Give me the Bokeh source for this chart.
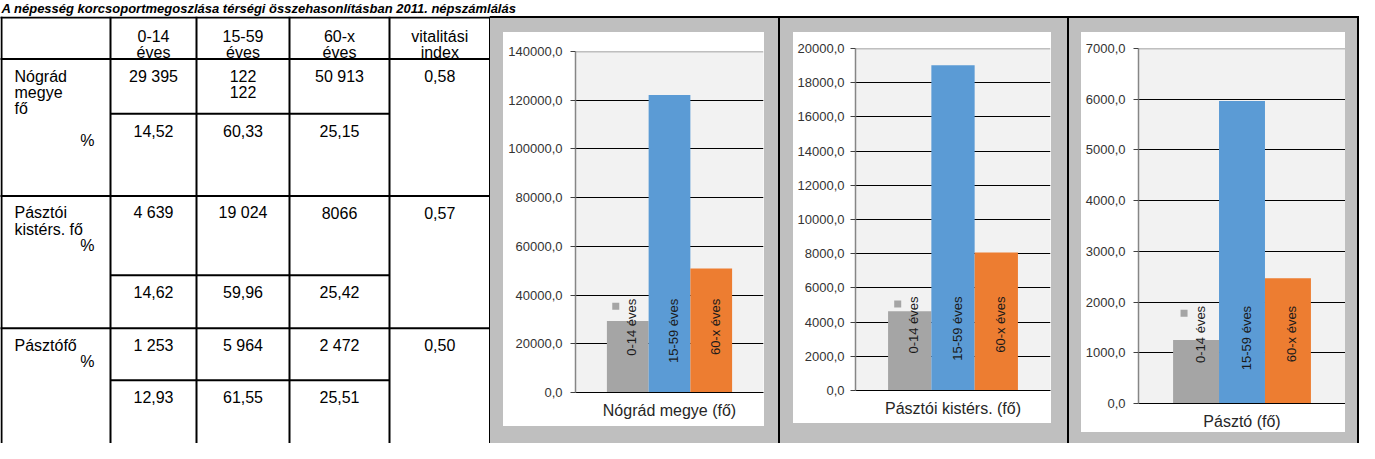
import math
from bokeh.plotting import figure
from bokeh.layouts import row, column
from bokeh.models import Div, FixedTicker, Range1d, FactorRange, ColumnDataSource, Span
from bokeh.transform import dodge
from bokeh.core.properties import value
from bokeh.embed import file_html
from bokeh.resources import INLINE

FONT = "Liberation Sans"

# ---------------- data ----------------
title_text = "A népesség korcsoportmegoszlása térségi összehasonlításban 2011. népszámlálás"

col_headers = ["0-14\néves", "15-59\néves", "60-x\néves", "vitalitási\nindex"]
row_labels = ["Nógrád\nmegye\nfő", "Pásztói\nkistérs. fő", "Pásztófő"]
count_0_14 = ["29 395", "4 639", "1 253"]
count_15_59 = ["122\n122", "19 024", "5 964"]
count_60x = ["50 913", "8066", "2 472"]
pct_0_14 = ["14,52", "14,62", "12,93"]
pct_15_59 = ["60,33", "59,96", "61,55"]
pct_60x = ["25,15", "25,42", "25,51"]
vitality = ["0,58", "0,57", "0,50"]

chart_titles = ["Nógrád megye (fő)", "Pásztói kistérs. (fő)", "Pásztó (fő)"]
age_groups = ["0-14 éves", "15-59 éves", "60-x éves"]
values_nograd = [29395, 122122, 50913]
values_pasztoi = [4639, 19024, 8066]
values_paszto = [1253, 5964, 2472]
y_max = [140000, 20000, 7000]
y_step = [20000, 2000, 1000]
bar_colors = ["#a5a5a5", "#5b9bd5", "#ed7d31"]

# ---------------- styles / layout ----------------
GREY = "#bfbfbf"
TITLE_H = 16
ROW_H = 443 - TITLE_H


def blank(p):
    p.axis.visible = False
    p.xgrid.visible = False
    p.ygrid.visible = False
    return p


# title strip
tfig = figure(width=1359, height=TITLE_H, x_range=Range1d(8, 1367), y_range=Range1d(TITLE_H, 0),
              output_backend="svg", toolbar_location=None, min_border=0,
              outline_line_color=None, border_fill_color="white", background_fill_color="white")
blank(tfig)
tfig.text(x=[9], y=[TITLE_H / 2], text=[title_text], text_font=value(FONT), text_font_size="13px",
          text_font_style="bold italic", text_color="black", text_baseline="middle")

# table
tab = figure(width=490, height=ROW_H, x_range=Range1d(8, 498), y_range=Range1d(459, 7),
             output_backend="svg", toolbar_location=None, min_border=0,
             outline_line_color=None, border_fill_color="white", background_fill_color="white")
blank(tab)

col_edges = [9, 118, 204, 297, 397, 497.5]
full_lines = [8, 52, 197, 337]
sub_lines = [110, 281, 392]
row_tops = [52, 197, 337]
pct_line_index = [4, 2, 1]
gap = 17.0

tab.segment(x0=col_edges, y0=[7] * len(col_edges), x1=col_edges, y1=[459] * len(col_edges),
            line_color="black", line_width=2)
tab.segment(x0=[6] * len(full_lines), y0=full_lines, x1=[498] * len(full_lines), y1=full_lines,
            line_color="black", line_width=2)
tab.segment(x0=[118] * len(sub_lines), y0=sub_lines, x1=[397] * len(sub_lines), y1=sub_lines,
            line_color="black", line_width=2)

centers = [(col_edges[k] + col_edges[k + 1]) / 2 for k in range(1, 5)]
tx, ty, tt, ta = [], [], [], []


def put(x, y, s, align):
    tx.append(x); ty.append(y); tt.append(s); ta.append(align)


for k, h in enumerate(col_headers):
    for li, line in enumerate(h.split("\n")):
        put(centers[k], 28 + li * gap, line, "center")

for r in range(3):
    base = row_tops[r] + 18
    for li, line in enumerate(row_labels[r].split("\n")):
        put(22, base + li * gap, line, "left")
    put(102, base + pct_line_index[r] * gap, "%", "right")
    for k, vals in enumerate([count_0_14, count_15_59, count_60x, vitality]):
        for li, line in enumerate(vals[r].split("\n")):
            put(centers[k], base + li * gap, line, "center")
    sb = sub_lines[r] + 18
    for k, vals in enumerate([pct_0_14, pct_15_59, pct_60x]):
        put(centers[k], sb, vals[r], "center")

tab.text(x=tx, y=ty, text=tt, text_align=ta, text_baseline="alphabetic",
         text_font=value(FONT), text_font_size="16px", text_color="black")


# charts
def make_chart(i, values, box_w, box_h, left, right, top, bottom, standoff):
    ymax, step = y_max[i], y_step[i]
    cat = chart_titles[i]
    p = figure(width=box_w, height=box_h, x_range=FactorRange(factors=[cat]),
               y_range=Range1d(0, ymax), output_backend="svg", toolbar_location=None,
               min_border_left=left, min_border_right=right, min_border_top=top,
               min_border_bottom=bottom, border_fill_color="white",
               background_fill_color="#f2f2f2", outline_line_color=None)
    frame_w = box_w - left - right
    frame_h = box_h - top - bottom
    bw = 0.222
    label_y = 0.275 * ymax
    for j, grp in enumerate(age_groups):
        off = (j - 1) * bw
        src = ColumnDataSource(dict(x=[cat], top=[values[j]], lab=[grp], ly=[label_y]))
        p.vbar(x=dodge("x", off, range=p.x_range), top="top", width=bw, source=src,
               fill_color=bar_colors[j], line_color=None)
        p.text(x=dodge("x", off, range=p.x_range), y="ly", text="lab", source=src,
               angle=math.pi / 2, text_align="right", text_baseline="middle", x_offset=4,
               text_font=value(FONT), text_font_size="13px", text_color="#1a1a1a")
        if j == 0:
            ksrc = ColumnDataSource(dict(x=[cat], y=[label_y - 7.5 / frame_h * ymax]))
            p.rect(x=dodge("x", off - 12.0 / frame_w, range=p.x_range), y="y", width=7, height=7,
                   width_units="screen", height_units="screen", source=ksrc,
                   fill_color=bar_colors[0], line_color=None)
    ticks = list(range(0, ymax + 1, step))
    p.yaxis.ticker = FixedTicker(ticks=ticks)
    p.yaxis.major_label_overrides = {t: f"{t:.1f}".replace(".", ",") for t in ticks}
    p.yaxis.axis_line_color = "#868686"
    p.yaxis.axis_line_width = 1.5
    p.yaxis.major_tick_in = 0
    p.yaxis.major_tick_out = 5
    p.yaxis.major_tick_line_color = "#404040"
    p.yaxis.minor_tick_line_color = None
    p.yaxis.major_label_standoff = standoff
    p.yaxis.major_label_text_font = FONT
    p.yaxis.major_label_text_font_size = "13px"
    p.yaxis.major_label_text_color = "#333333"
    p.ygrid.ticker = FixedTicker(ticks=ticks[1:-1])
    p.ygrid.grid_line_color = "black"
    p.ygrid.grid_line_width = 1
    p.xgrid.visible = False
    p.add_layout(Span(location=ymax, dimension="width", line_color="#868686", line_width=1.5))
    p.xaxis.axis_line_color = "black"
    p.xaxis.major_tick_line_color = None
    p.xaxis.minor_tick_line_color = None
    p.xaxis.major_tick_out = 0
    p.xaxis.major_label_standoff = 9
    p.xaxis.major_label_text_font = FONT
    p.xaxis.major_label_text_font_size = "16px"
    p.xaxis.major_label_text_color = "#262626"
    return p


def blk(w, h, c):
    return Div(width=w, height=h, margin=0, styles={"background-color": c, "overflow": "hidden"})


def panel(fig, W, padL, padR, padT, box_h):
    bottom_h = ROW_H - 2 - padT - box_h
    return column(blk(W, 2, "black"), blk(W, padT, GREY),
                  row(blk(padL, box_h, GREY), fig, blk(padR, box_h, GREY), spacing=0),
                  blk(W, bottom_h, GREY), spacing=0)


c1 = make_chart(0, values_nograd, 261, 394, 72, 1, 19, 34, 8)
c2 = make_chart(1, values_pasztoi, 258, 391, 62, 1, 16, 33, 6)
c3 = make_chart(2, values_paszto, 264, 400, 57, 0, 16, 28, 8)

p1 = panel(c1, 288, 13, 14, 14, 394)
p2 = panel(c2, 287, 13, 16, 14, 391)
p3 = panel(c3, 288, 12, 12, 14, 400)

layout = column(tfig,
                row(tab, p1, blk(2, ROW_H, "black"), p2, blk(2, ROW_H, "black"), p3,
                    blk(2, ROW_H, "black"), spacing=0),
                spacing=0)

open("out.html", "w").write(file_html(layout, INLINE))
